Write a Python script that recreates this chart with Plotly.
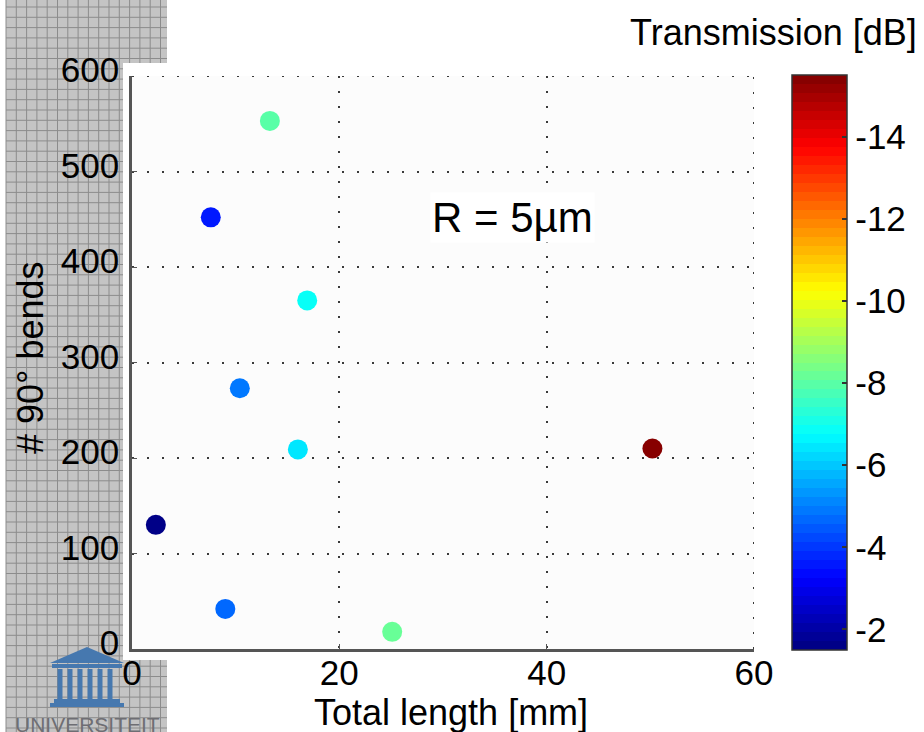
import plotly.graph_objects as go

# ---- data ----
length_mm = [13.3, 7.6, 16.9, 10.4, 16.0, 50.2, 2.3, 9.0, 25.1]
bends = [553, 452, 365, 273, 209, 210, 130, 42, 18]
transmission_db = [-8.0, -3.5, -6.8, -4.8, -6.5, -15.5, -1.5, -4.6, -8.1]

x_ticks = [0, 20, 40, 60]
y_ticks = [0, 100, 200, 300, 400, 500, 600]
cbar_ticks = [-2, -4, -6, -8, -10, -12, -14]

# ---- geometry helpers (pixel -> paper) ----
W, H = 924, 732
L, R, T, B = 132, 754, 76, 649
PW, PH = R - L, B - T


def px(x):
    return (x - L) / PW


def py(y):
    return (B - y) / PH


# MATLAB jet(64), stepped
def jet(t):
    def c(v):
        return max(0.0, min(1.0, v))
    r = c(1.5 - abs(4 * t - 3))
    g = c(1.5 - abs(4 * t - 2))
    b = c(1.5 - abs(4 * t - 1))
    return f"rgb({round(r*255)},{round(g*255)},{round(b*255)})"


N = 64
jet64 = []
for i in range(N):
    col = jet((i + 0.5) / N)
    jet64.append([i / N, col])
    jet64.append([(i + 1) / N, col])

loss = [-v for v in transmission_db]

FONT = "Arial, Liberation Sans, sans-serif"
GRIDCOL = "#3a3a3a"
GRIDDASH = "2px,13px"

fig = go.Figure()
fig.add_trace(go.Scatter(
    x=length_mm, y=bends, mode="markers", showlegend=False,
    marker=dict(
        size=20, color=loss, colorscale=jet64, cmin=1.5, cmax=15.5,
        line=dict(width=0),
        colorbar=dict(
            x=px(792), xanchor="left", xpad=0,
            y=0.5, yanchor="middle", ypad=0,
            lenmode="pixels", len=575,
            thicknessmode="pixels", thickness=55,
            outlinewidth=1.5, outlinecolor="#333",
            ticks="inside", ticklen=5, tickcolor="#333", tickwidth=2,
            tickvals=[-v for v in cbar_ticks],
            ticktext=[str(v) for v in cbar_ticks],
            tickfont=dict(size=35, color="black", family=FONT),
        ),
    ),
))

grid = dict(showgrid=True, gridcolor=GRIDCOL, gridwidth=2, griddash=GRIDDASH)

fig.update_xaxes(
    range=[0, 60], tickvals=x_ticks, ticktext=[str(v) for v in x_ticks],
    showline=True, linecolor="#555", linewidth=2.5, mirror=False,
    ticks="inside", ticklen=5, tickcolor="#555",
    tickfont=dict(size=35, color="black", family=FONT),
    ticklabelstandoff=-9,
    zeroline=False, **grid,
)
fig.update_yaxes(
    range=[0, 600], tickvals=y_ticks, ticktext=[str(v) for v in y_ticks],
    showline=True, linecolor="#555", linewidth=2.5, mirror=False,
    ticks="inside", ticklen=5, tickcolor="#555",
    tickfont=dict(size=35, color="black", family=FONT),
    ticklabelshift=-6, ticklabelstandoff=3,
    zeroline=False, **grid,
)

# ---- slide background: grey grid strip at the left ----
shapes = []
strip = (f"M {px(6)},{py(0)} L {px(167)},{py(0)} L {px(167)},{py(63)} L {px(123)},{py(63)} "
         f"L {px(123)},{py(660)} L {px(167)},{py(660)} L {px(167)},{py(732)} L {px(6)},{py(732)} Z")
shapes.append(dict(type="path", xref="paper", yref="paper", path=strip,
                   fillcolor="rgb(196,196,196)", line=dict(width=0), layer="below"))
cell = 10.3
segs = []
k = 0
while 6 + k * cell <= 167:
    xv = 6 + k * cell
    if xv <= 123:
        segs.append(f"M {px(xv)},{py(0)} L {px(xv)},{py(732)}")
    else:
        segs.append(f"M {px(xv)},{py(0)} L {px(xv)},{py(63)}")
        segs.append(f"M {px(xv)},{py(660)} L {px(xv)},{py(732)}")
    k += 1
k = 0
while 7 + k * cell <= 732:
    yv = 7 + k * cell
    xe = 167 if (yv < 63 or yv > 660) else 123
    segs.append(f"M {px(6)},{py(yv)} L {px(xe)},{py(yv)}")
    k += 1
shapes.append(dict(type="path", xref="paper", yref="paper", path=" ".join(segs),
                   line=dict(color="rgb(140,140,140)", width=1), layer="below"))

# dotted top / right box edges (grid lines at 600 and 60)
shapes.append(dict(type="line", xref="x", yref="y", x0=x_ticks[0], x1=x_ticks[-1],
                   y0=y_ticks[-1], y1=y_ticks[-1],
                   line=dict(color=GRIDCOL, width=2, dash=GRIDDASH)))
shapes.append(dict(type="line", xref="x", yref="y", x0=x_ticks[-1], x1=x_ticks[-1],
                   y0=y_ticks[0], y1=y_ticks[-1],
                   line=dict(color=GRIDCOL, width=2, dash=GRIDDASH)))

# ---- logo (temple) ----
blue = "rgb(70,120,175)"
shapes.append(dict(type="path", xref="paper", yref="paper",
                   path=f"M {px(50)},{py(663)} L {px(87)},{py(647)} L {px(124)},{py(663)} Z",
                   fillcolor=blue, line=dict(width=0), layer="below"))


def rect(x0, y0, x1, y1, color):
    return dict(type="rect", xref="paper", yref="paper",
                x0=px(x0), x1=px(x1), y0=py(y1), y1=py(y0),
                fillcolor=color, line=dict(width=0), layer="below")


shapes.append(rect(52, 664, 122, 668, blue))
for cx in [60, 70, 80, 90, 100, 110]:
    shapes.append(rect(cx - 2.5, 669, cx + 2.5, 699, blue))
shapes.append(rect(54, 699, 120, 703, blue))
shapes.append(rect(50, 703, 124, 707, blue))

annotations = [
    dict(text="UNIVERSITEIT", xref="paper", yref="paper", x=px(87), y=py(711),
         xanchor="center", yanchor="top", showarrow=False,
         font=dict(size=21, color="rgb(110,110,115)", family=FONT)),
    dict(text="R = 5µm", xref="x", yref="y", x=(512 - L) / PW * 60, y=(B - 217) / PH * 600,
         xanchor="center", yanchor="middle", showarrow=False, bgcolor="white",
         font=dict(size=42, color="black", family=FONT)),
    dict(text="Transmission [dB]", xref="paper", yref="paper", x=px(919), y=py(32),
         xanchor="right", yanchor="middle", showarrow=False,
         font=dict(size=36, color="black", family=FONT)),
    dict(text="Total length [mm]", xref="paper", yref="paper", x=px(451), y=py(712),
         xanchor="center", yanchor="middle", showarrow=False,
         font=dict(size=36, color="black", family=FONT)),
    dict(text="# 90° bends", xref="paper", yref="paper", x=px(30), y=py(358),
         xanchor="center", yanchor="middle", showarrow=False, textangle=-90,
         font=dict(size=36, color="black", family=FONT)),
]

fig.update_layout(
    width=W, height=H,
    margin=dict(l=L, r=W - R, t=T, b=H - B, autoexpand=False),
    paper_bgcolor="white", plot_bgcolor="rgb(252,252,252)",
    shapes=shapes, annotations=annotations,
    font=dict(family=FONT, color="black"),
)

fig.write_html("out.html", config={"displayModeBar": False},
               post_script="document.body.style.margin='0px';")
